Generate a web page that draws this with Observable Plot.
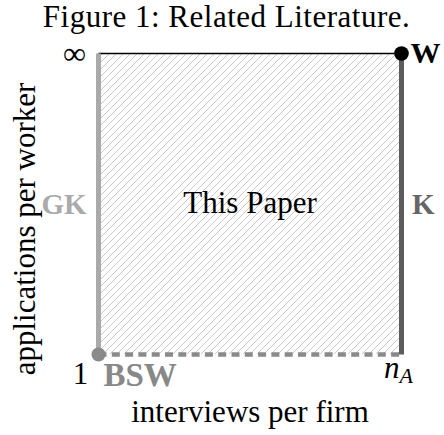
<!DOCTYPE html>
<html>
<head>
<meta charset="utf-8">
<script src="https://cdn.jsdelivr.net/npm/d3@7"></script>
<script src="https://cdn.jsdelivr.net/npm/@observablehq/plot@0.6"></script>
<style>
  html, body { margin: 0; padding: 0; background: #fff; }
  #title { font-family: "Liberation Serif", serif; font-size: 31px; letter-spacing: 0.5px; height: 30px; line-height: 34.4px;
           text-align: center; width: 444px; padding-left: 9px; box-sizing: border-box; white-space: nowrap; color: #000; overflow: visible; }
  #chart svg { display: block; }
</style>
</head>
<body>
<div id="title"></div>
<div id="chart"></div>
<script>
// ---- data ----
const titleText = "Figure 1: Related Literature.";
const region = [{x1: 0, x2: 1, y1: 0, y2: 1, label: "This Paper"}];
const edgeTop    = [{x1: 0, y1: 1, x2: 1, y2: 1}];
const edgeGK     = [{x1: 0, y1: 0, x2: 0, y2: 1, label: "GK"}];
const edgeK      = [{x1: 1, y1: 0, x2: 1, y2: 1, label: "K"}];
const edgeBSW    = [{x1: 0, y1: 0, x2: 1, y2: 0, label: "BSW"}];
const pointW     = [{x: 1, y: 1, label: "W"}];
const pointOrigin = [{x: 0, y: 0}];
const yTickTop   = [{x: 0, y: 1, label: "∞"}];
const tickOne    = [{x: 0, y: 0, label: "1"}];
const xTickEnd   = [{x: 1, y: 0, base: "n", sub: "A"}];
const xLabel = "interviews per firm";
const yLabel = "applications per worker";

document.getElementById("title").textContent = titleText;

const serif = "Liberation Serif, Times New Roman, serif";

const chart = Plot.plot({
  width: 444,
  height: 405,
  marginTop: 23,
  marginBottom: 81,
  marginLeft: 98,
  marginRight: 43,
  style: {fontFamily: serif, background: "#fff"},
  x: {domain: [0, 1], axis: null},
  y: {domain: [0, 1], axis: null},
  marks: [
    Plot.rect(region, {x1: "x1", x2: "x2", y1: "y1", y2: "y2", fill: "url(#hatch)"}),
    Plot.link(edgeBSW, {x1: "x1", y1: "y1", x2: "x2", y2: "y2", stroke: "#8a8a8a", strokeWidth: 4.5, strokeDasharray: "8,5.3"}),
    Plot.link(edgeTop, {x1: "x1", y1: "y1", x2: "x2", y2: "y2", stroke: "#000", strokeWidth: 1.5}),
    Plot.link(edgeGK, {x1: "x1", y1: "y1", x2: "x2", y2: "y2", stroke: "#aaaaaa", strokeWidth: 5}),
    Plot.link(edgeK, {x1: "x1", y1: "y1", x2: "x2", y2: "y2", stroke: "#5c5c5c", strokeWidth: 5}),
    Plot.dot(pointOrigin, {x: "x", y: "y", r: 7, fill: "#8a8a8a"}),
    Plot.dot(pointW, {x: "x", y: "y", r: 7.3, fill: "#000"}),
    // labels
    Plot.text(region, {x: d => (d.x1 + d.x2) / 2, y: d => (d.y1 + d.y2) / 2, text: "label", fontSize: 31, lineAnchor: "bottom", dy: 8.5, fill: "#000"}),
    Plot.text(edgeGK, {x: "x1", y: d => (d.y1 + d.y2) / 2, text: "label", fontSize: 29, fontWeight: "bold", textAnchor: "end", lineAnchor: "bottom", dx: -12, dy: 9.5, fill: "#aaaaaa"}),
    Plot.text(edgeK, {x: "x1", y: d => (d.y1 + d.y2) / 2, text: "label", fontSize: 29, fontWeight: "bold", textAnchor: "start", lineAnchor: "bottom", dx: 10.5, dy: 9.5, fill: "#666666"}),
    Plot.text(edgeBSW, {x: "x1", y: "y1", text: "label", fontSize: 33, fontWeight: "bold", textAnchor: "start", lineAnchor: "bottom", dx: 5, dy: 31, fill: "#888888"}),
    Plot.text(pointW, {x: "x", y: "y", text: "label", fontSize: 30, fontWeight: "bold", textAnchor: "start", lineAnchor: "bottom", dx: 9, dy: 9, fill: "#000"}),
    Plot.text(yTickTop, {x: "x", y: "y", text: "label", fontSize: 32, textAnchor: "middle", lineAnchor: "middle", dx: -24, dy: 0.5, fill: "#000"}),
    Plot.text(tickOne, {x: "x", y: "y", text: "label", fontSize: 31, textAnchor: "middle", lineAnchor: "bottom", dx: -18, dy: 29, fill: "#000"}),
    Plot.text(xTickEnd, {x: "x", y: "y", text: "base", fontSize: 31, fontStyle: "italic", textAnchor: "end", lineAnchor: "bottom", dx: -2, dy: 23, fill: "#000"}),
    Plot.text(xTickEnd, {x: "x", y: "y", text: "sub", fontSize: 22, fontStyle: "italic", textAnchor: "start", lineAnchor: "bottom", dx: -2, dy: 28, fill: "#000"}),
    Plot.text([xLabel], {x: () => 0.5, y: () => 0, text: d => d, fontSize: 31, textAnchor: "middle", lineAnchor: "bottom", dy: 67, fill: "#000"}),
    Plot.text([yLabel], {x: () => 0, y: () => 0.5, text: d => d, fontSize: 31, rotate: -90, textAnchor: "middle", lineAnchor: "bottom", dx: -64, dy: 25, fill: "#000"})
  ]
});

const defs = document.createElementNS("http://www.w3.org/2000/svg", "defs");
defs.innerHTML = `<pattern id="hatch" patternUnits="userSpaceOnUse" width="7" height="7">
  <rect width="7" height="7" fill="#fff"/>
  <path d="M-1,1 l2,-2 M0,7 l7,-7 M6,8 l2,-2" stroke="#b0b0b0" stroke-width="0.7"/>
</pattern>`;
chart.insertBefore(defs, chart.firstChild);
document.getElementById("chart").appendChild(chart);
</script>
</body>
</html>
